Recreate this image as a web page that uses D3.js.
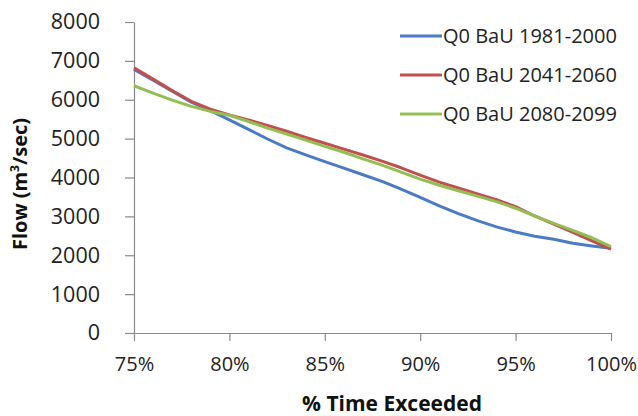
<!DOCTYPE html>
<html>
<head>
<meta charset="utf-8">
<script src="https://cdn.jsdelivr.net/npm/d3@7"></script>
<style>
  body { margin: 0; background: #fff; }
  svg { display: block; font-family: "Open Sans", sans-serif; }
</style>
</head>
<body>
<svg id="chart" width="638" height="416"></svg>
<script>
// % of time exceeded
const pctTicks = [75, 80, 85, 90, 95, 100];
const flowTicks = [0, 1000, 2000, 3000, 4000, 5000, 6000, 7000, 8000];
const pct = [75, 76, 77, 78, 79, 80, 81, 82, 83, 84, 85, 86, 87, 88, 89, 90, 91, 92, 93, 94, 95, 96, 97, 98, 99, 100];

// flow values (m3/sec)
const q1981 = [6780, 6500, 6220, 5940, 5720, 5480, 5240, 4990, 4760, 4580, 4410, 4240, 4070, 3900, 3700, 3490, 3270, 3070, 2890, 2730, 2600, 2490, 2410, 2310, 2240, 2180];
const q2041 = [6820, 6530, 6240, 5960, 5760, 5608, 5480, 5340, 5190, 5030, 4880, 4730, 4580, 4420, 4250, 4060, 3880, 3730, 3580, 3430, 3250, 3010, 2800, 2590, 2370, 2160];
const q2080 = [6360, 6170, 5990, 5830, 5700, 5600, 5440, 5270, 5120, 4960, 4800, 4650, 4480, 4320, 4140, 3960, 3800, 3660, 3520, 3380, 3210, 3010, 2820, 2640, 2450, 2220];

const seriesNames = ["Q0 BaU 1981-2000", "Q0 BaU 2041-2060", "Q0 BaU 2080-2099"];
const seriesColors = ["#4a7bc4", "#c0504d", "#93bd55"];
const seriesValues = [q1981, q2041, q2080];

const svg = d3.select("#chart");
const mLeft = 134, mRight = 611, mTop = 22, mBottom = 333;

const x = d3.scaleLinear().domain([75, 100]).range([mLeft, mRight]);
const y = d3.scaleLinear().domain([0, 8000]).range([mBottom, mTop]);

// y axis
const yAxis = svg.append("g")
  .attr("transform", `translate(${mLeft},0)`)
  .call(d3.axisLeft(y).tickValues(flowTicks).tickFormat(d3.format("d"))
    .tickSize(9).tickPadding(25).tickSizeOuter(0));
yAxis.select(".domain").attr("stroke", "#8a8a8a").attr("stroke-width", 1.2);
yAxis.selectAll(".tick line").attr("stroke", "#8a8a8a").attr("stroke-width", 1.2);
yAxis.selectAll(".tick text")
  .attr("font-size", 21.5).attr("fill", "#222").attr("font-family", "Open Sans");

// x axis
const xAxis = svg.append("g")
  .attr("transform", `translate(0,${mBottom})`)
  .call(d3.axisBottom(x).tickValues(pctTicks).tickFormat(d => d + "%")
    .tickSize(8).tickPadding(16).tickSizeOuter(0));
xAxis.select(".domain").attr("stroke", "#8a8a8a").attr("stroke-width", 1.2);
xAxis.selectAll(".tick line").attr("stroke", "#8a8a8a").attr("stroke-width", 1.2);
xAxis.selectAll(".tick text")
  .attr("font-size", 20).attr("fill", "#222").attr("font-family", "Open Sans");

// lines
const line = d3.line()
  .x((d, i) => x(pct[i]))
  .y(d => y(d));

svg.append("g").selectAll("path")
  .data(seriesValues)
  .join("path")
  .attr("d", line)
  .attr("fill", "none")
  .attr("stroke", (d, i) => seriesColors[i])
  .attr("stroke-width", 3)
  .attr("stroke-linejoin", "round");

// axis titles
svg.append("text")
  .attr("x", 392).attr("y", 411)
  .attr("text-anchor", "middle")
  .attr("font-size", 21).attr("font-weight", "bold").attr("fill", "#111")
  .text("% Time Exceeded");

const yTitle = svg.append("text")
  .attr("transform", "translate(27,184) rotate(-90)")
  .attr("text-anchor", "middle")
  .attr("font-size", 20).attr("font-weight", "bold").attr("fill", "#111");
yTitle.append("tspan").text("Flow (m");
yTitle.append("tspan").attr("font-size", 12).attr("dy", -8).text("3");
yTitle.append("tspan").attr("dy", 8).text("/sec)");

// legend
const legend = svg.append("g").selectAll("g")
  .data(seriesNames)
  .join("g")
  .attr("transform", (d, i) => `translate(400,${36 + i * 39})`);
legend.append("line")
  .attr("x1", 0).attr("x2", 42)
  .attr("stroke", (d, i) => seriesColors[i])
  .attr("stroke-width", 3);
legend.append("text")
  .attr("x", 43).attr("dy", "0.35em")
  .attr("font-size", 20).attr("fill", "#222")
  .text(d => d);
</script>
</body>
</html>
